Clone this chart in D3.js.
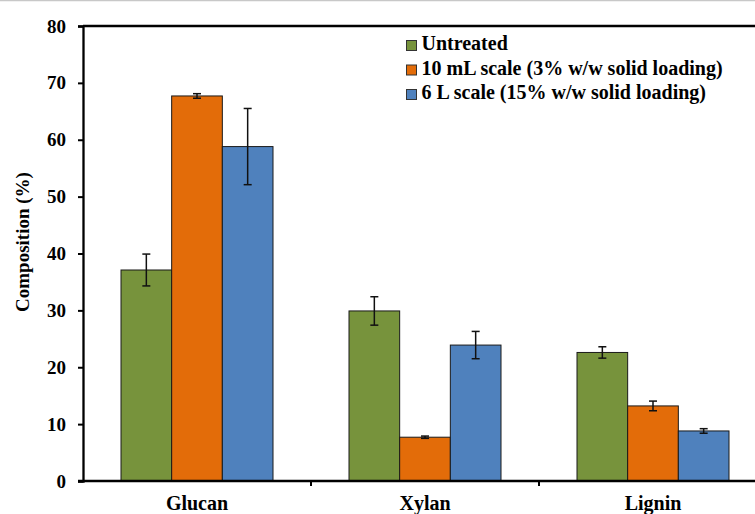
<!DOCTYPE html>
<html>
<head>
<meta charset="utf-8">
<script src="https://cdn.jsdelivr.net/npm/d3@7"></script>
<style>
  html, body { margin: 0; padding: 0; background: #fff; }
  svg { display: block; font-family: "Liberation Serif", "Times New Roman", serif; font-weight: bold; }
</style>
</head>
<body>
<svg id="chart" width="755" height="514"></svg>
<script>
// Biomass composition by component and pretreatment condition
const categories = ["Glucan", "Xylan", "Lignin"];
const seriesNames = [
  "Untreated",
  "10 mL scale (3% w/w solid loading)",
  "6 L scale (15% w/w solid loading)"
];
const seriesColors = ["#77933C", "#E36C09", "#4F81BD"];
const untreated = [37.1, 29.9, 22.6];
const untreatedErr = [2.8, 2.5, 1.0];
const mlScale = [67.7, 7.7, 13.2];
const mlScaleErr = [0.4, 0.2, 0.85];
const lScale = [58.8, 23.9, 8.8];
const lScaleErr = [6.7, 2.4, 0.4];
const yTicks = [0, 10, 20, 30, 40, 50, 60, 70, 80];

const values = [untreated, mlScale, lScale];
const errors = [untreatedErr, mlScaleErr, lScaleErr];

const svg = d3.select("#chart");
const mLeft = 83, mRight = 767, mTop = 26, mBottom = 481;

// thin page rule at the very top
svg.append("line").attr("x1", 0).attr("x2", 755).attr("y1", 0.5).attr("y2", 0.5)
  .attr("stroke", "#c8c8c8").attr("stroke-width", 1.5);

const x0 = d3.scaleBand().domain(categories).range([mLeft, mRight]).padding(0);
const x1 = d3.scaleBand().domain(d3.range(3)).range([0, x0.bandwidth()]).paddingOuter(0.75).paddingInner(0);
const y = d3.scaleLinear().domain([0, 80]).range([mBottom, mTop]);

const rows = categories.map((c, i) => ({ c, i }));
const groups = svg.append("g").selectAll("g").data(rows).join("g")
  .attr("transform", d => `translate(${x0(d.c)},0)`);

const barData = d => d3.range(3).map(s => ({ s, v: values[s][d.i], e: errors[s][d.i] }));

groups.selectAll("rect").data(barData)
  .join("rect")
  .attr("x", d => x1(d.s))
  .attr("y", d => y(d.v))
  .attr("width", x1.bandwidth())
  .attr("height", d => y(0) - y(d.v))
  .attr("fill", d => seriesColors[d.s])
  .attr("stroke", "#1a1a1a").attr("stroke-width", 1);

// error bars
const eb = groups.selectAll("g.err").data(barData)
  .join("g").attr("class", "err")
  .attr("transform", d => `translate(${x1(d.s) + x1.bandwidth() / 2},0)`)
  .attr("stroke", "#111").attr("stroke-width", 1.5);
eb.append("line").attr("x1", 0).attr("x2", 0).attr("y1", d => y(d.v + d.e)).attr("y2", d => y(d.v - d.e));
eb.append("line").attr("x1", -4).attr("x2", 4).attr("y1", d => y(d.v + d.e)).attr("y2", d => y(d.v + d.e));
eb.append("line").attr("x1", -4).attr("x2", 4).attr("y1", d => y(d.v - d.e)).attr("y2", d => y(d.v - d.e));

// top frame line
svg.append("line").attr("x1", mLeft).attr("x2", mRight).attr("y1", mTop).attr("y2", mTop)
  .attr("stroke", "#000").attr("stroke-width", 2.3);

// y axis
const yAxis = svg.append("g").attr("transform", `translate(${mLeft},0)`)
  .call(d3.axisLeft(y).tickValues(yTicks).tickSize(5).tickPadding(12));
yAxis.select(".domain").attr("stroke", "#000").attr("stroke-width", 2.3);
yAxis.selectAll(".tick line").attr("stroke", "#000").attr("stroke-width", 2);
yAxis.selectAll(".tick text").attr("font-size", 19).attr("font-family", "Liberation Serif")
  .attr("font-weight", "bold").attr("fill", "#000");

// x axis with separators between categories
const xAxis = svg.append("g").attr("transform", `translate(0,${mBottom})`);
xAxis.append("line").attr("x1", mLeft - 5).attr("x2", mRight).attr("y1", 0).attr("y2", 0)
  .attr("stroke", "#000").attr("stroke-width", 2.3);
xAxis.selectAll("line.sep").data(categories.slice(1)).join("line").attr("class", "sep")
  .attr("x1", d => x0(d)).attr("x2", d => x0(d)).attr("y1", 0).attr("y2", 5)
  .attr("stroke", "#000").attr("stroke-width", 2);
xAxis.selectAll("text").data(categories).join("text")
  .attr("x", d => x0(d) + x0.bandwidth() / 2).attr("y", 29)
  .attr("text-anchor", "middle").attr("font-size", 20).attr("fill", "#000").text(d => d);

// y axis title
svg.append("text").attr("transform", "translate(29,242) rotate(-90)")
  .attr("text-anchor", "middle").attr("font-size", 19).attr("fill", "#000")
  .text("Composition (%)");

// legend
const legend = svg.append("g").attr("transform", "translate(406,50)");
const li = legend.selectAll("g").data(seriesNames).join("g")
  .attr("transform", (d, i) => `translate(0,${i * 24.5})`);
li.append("rect").attr("x", 0.5).attr("y", -9.5).attr("width", 10).attr("height", 10)
  .attr("fill", (d, i) => seriesColors[i]).attr("stroke", "#333").attr("stroke-width", 1);
li.append("text").attr("x", 15.5).attr("y", 0).attr("font-size", 20).attr("fill", "#000").text(d => d);
</script>
</body>
</html>
